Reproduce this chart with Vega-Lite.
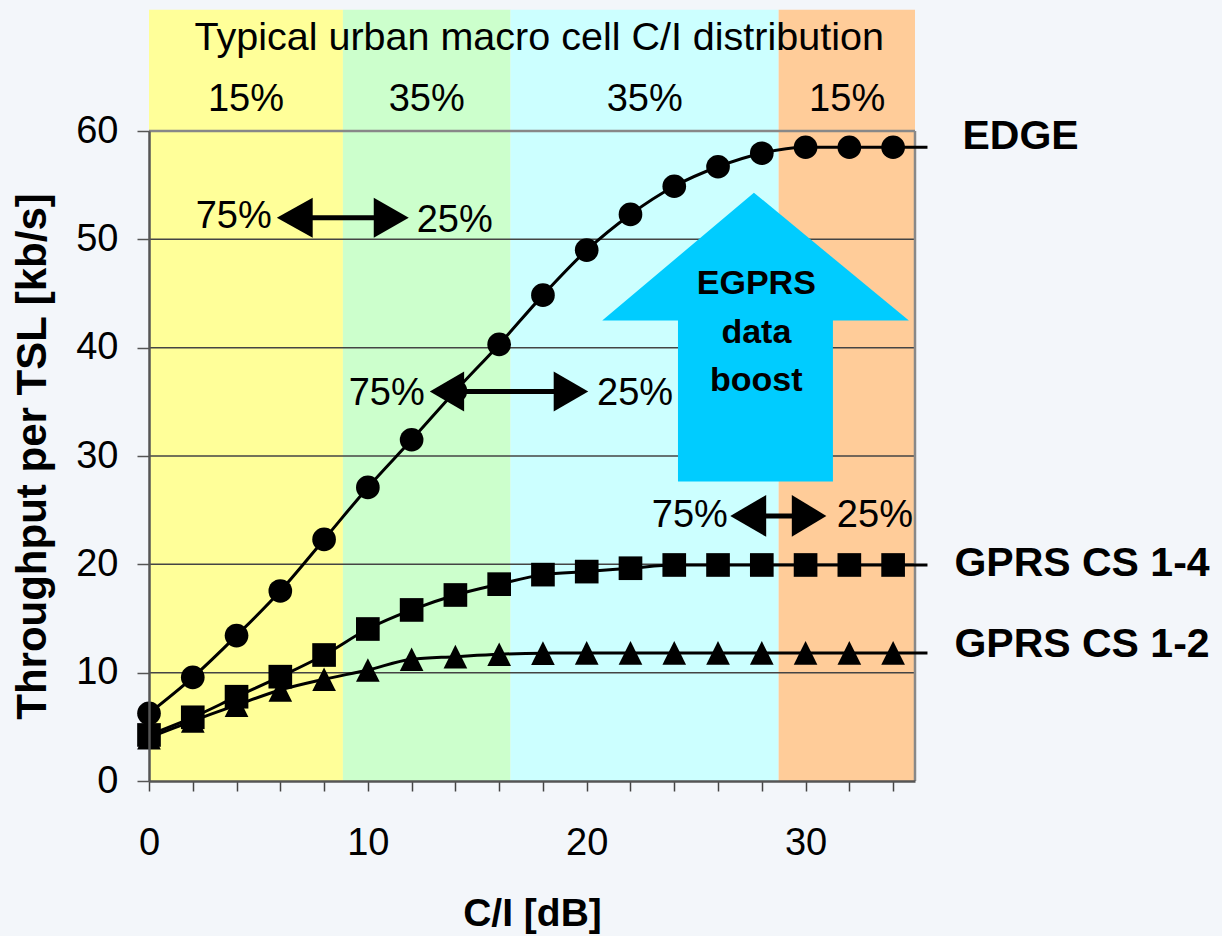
{
  "$schema": "https://vega.github.io/schema/vega-lite/v6.json",
  "width": 766,
  "height": 650,
  "autosize": {"type": "none"},
  "padding": {"left": 149, "top": 131, "right": 307, "bottom": 155},
  "background": "#f3f6fa",
  "config": {"view": {"stroke": null}, "font": "Liberation Sans"},
  "datasets": {
    "bands": [
      {"band": "b1", "x": 0, "x2": 8.86},
      {"band": "b2", "x": 8.86, "x2": 16.52},
      {"band": "b3", "x": 16.52, "x2": 28.77},
      {"band": "b4", "x": 28.77, "x2": 35}
    ],
    "grid": [{"y": 10}, {"y": 20}, {"y": 30}, {"y": 40}, {"y": 50}],
    "series": [
      {"series": "EDGE", "x": 0, "y": 6.25},
      {"series": "EDGE", "x": 2, "y": 9.57},
      {"series": "EDGE", "x": 4, "y": 13.42},
      {"series": "EDGE", "x": 6, "y": 17.54},
      {"series": "EDGE", "x": 8, "y": 22.3},
      {"series": "EDGE", "x": 10, "y": 27.1},
      {"series": "EDGE", "x": 12, "y": 31.5},
      {"series": "EDGE", "x": 14, "y": 36.0},
      {"series": "EDGE", "x": 16, "y": 40.3},
      {"series": "EDGE", "x": 18, "y": 44.85},
      {"series": "EDGE", "x": 20, "y": 49.0},
      {"series": "EDGE", "x": 22, "y": 52.3},
      {"series": "EDGE", "x": 24, "y": 54.9},
      {"series": "EDGE", "x": 26, "y": 56.7},
      {"series": "EDGE", "x": 28, "y": 57.95},
      {"series": "EDGE", "x": 30, "y": 58.5},
      {"series": "EDGE", "x": 32, "y": 58.5},
      {"series": "EDGE", "x": 34, "y": 58.5},
      {"series": "EDGE", "x": 35.57, "y": 58.5},
      {"series": "GPRS CS 1-4", "x": 0, "y": 4.25},
      {"series": "GPRS CS 1-4", "x": 2, "y": 5.88},
      {"series": "GPRS CS 1-4", "x": 4, "y": 7.78},
      {"series": "GPRS CS 1-4", "x": 6, "y": 9.63},
      {"series": "GPRS CS 1-4", "x": 8, "y": 11.63},
      {"series": "GPRS CS 1-4", "x": 10, "y": 14.03},
      {"series": "GPRS CS 1-4", "x": 12, "y": 15.79},
      {"series": "GPRS CS 1-4", "x": 14, "y": 17.17},
      {"series": "GPRS CS 1-4", "x": 16, "y": 18.17},
      {"series": "GPRS CS 1-4", "x": 18, "y": 19.05},
      {"series": "GPRS CS 1-4", "x": 20, "y": 19.33},
      {"series": "GPRS CS 1-4", "x": 22, "y": 19.64},
      {"series": "GPRS CS 1-4", "x": 24, "y": 19.94},
      {"series": "GPRS CS 1-4", "x": 26, "y": 19.94},
      {"series": "GPRS CS 1-4", "x": 28, "y": 19.94},
      {"series": "GPRS CS 1-4", "x": 30, "y": 19.94},
      {"series": "GPRS CS 1-4", "x": 32, "y": 19.94},
      {"series": "GPRS CS 1-4", "x": 34, "y": 19.94},
      {"series": "GPRS CS 1-4", "x": 35.57, "y": 19.94},
      {"series": "GPRS CS 1-2", "x": 0, "y": 4.0},
      {"series": "GPRS CS 1-2", "x": 2, "y": 5.55},
      {"series": "GPRS CS 1-2", "x": 4, "y": 7.0},
      {"series": "GPRS CS 1-2", "x": 6, "y": 8.4},
      {"series": "GPRS CS 1-2", "x": 8, "y": 9.39},
      {"series": "GPRS CS 1-2", "x": 10, "y": 10.25},
      {"series": "GPRS CS 1-2", "x": 12, "y": 11.24},
      {"series": "GPRS CS 1-2", "x": 14, "y": 11.48},
      {"series": "GPRS CS 1-2", "x": 16, "y": 11.7},
      {"series": "GPRS CS 1-2", "x": 18, "y": 11.8},
      {"series": "GPRS CS 1-2", "x": 20, "y": 11.82},
      {"series": "GPRS CS 1-2", "x": 22, "y": 11.82},
      {"series": "GPRS CS 1-2", "x": 24, "y": 11.82},
      {"series": "GPRS CS 1-2", "x": 26, "y": 11.82},
      {"series": "GPRS CS 1-2", "x": 28, "y": 11.82},
      {"series": "GPRS CS 1-2", "x": 30, "y": 11.82},
      {"series": "GPRS CS 1-2", "x": 32, "y": 11.82},
      {"series": "GPRS CS 1-2", "x": 34, "y": 11.82},
      {"series": "GPRS CS 1-2", "x": 35.57, "y": 11.82}
    ],
    "heads": [
      {"id": "a1L", "x": 5.84, "y": 52.0, "y2": 52.0},
      {"id": "a1L", "x": 7.48, "y": 53.85, "y2": 50.15},
      {"id": "a1R", "x": 10.27, "y": 53.85, "y2": 50.15},
      {"id": "a1R", "x": 11.87, "y": 52.0, "y2": 52.0},
      {"id": "a2L", "x": 12.83, "y": 35.95, "y2": 35.95},
      {"id": "a2L", "x": 14.4, "y": 37.8, "y2": 34.1},
      {"id": "a2R", "x": 18.49, "y": 37.8, "y2": 34.1},
      {"id": "a2R", "x": 20.07, "y": 35.95, "y2": 35.95},
      {"id": "a3L", "x": 26.56, "y": 24.47, "y2": 24.47},
      {"id": "a3L", "x": 28.2, "y": 26.4, "y2": 22.54},
      {"id": "a3R", "x": 29.37, "y": 26.4, "y2": 22.54},
      {"id": "a3R", "x": 30.95, "y": 24.47, "y2": 24.47}
    ],
    "shafts": [
      {"x": 7.0, "x2": 10.6, "y": 52.0},
      {"x": 14.0, "x2": 18.9, "y": 35.95},
      {"x": 27.8, "x2": 29.7, "y": 24.47}
    ],
    "bigshaft": [{"x": 24.17, "x2": 31.25, "y": 27.64, "y2": 42.6}],
    "bighead": [
      {"x": 20.71, "y": 42.5, "y2": 42.5},
      {"x": 27.64, "y": 54.31, "y2": 42.5},
      {"x": 34.72, "y": 42.5, "y2": 42.5}
    ],
    "pct": [
      {"text": "15%", "x": 4.43, "y": 62.9},
      {"text": "35%", "x": 12.69, "y": 62.9},
      {"text": "35%", "x": 22.65, "y": 62.9},
      {"text": "15%", "x": 31.9, "y": 62.9}
    ],
    "title": [{"text": "Typical urban macro cell C/I distribution", "x": 17.83, "y": 68.6}],
    "left75": [
      {"text": "75%", "x": 5.61, "y": 52.08},
      {"text": "75%", "x": 12.6, "y": 35.69},
      {"text": "75%", "x": 26.45, "y": 24.47}
    ],
    "right25": [
      {"text": "25%", "x": 12.23, "y": 51.7},
      {"text": "25%", "x": 20.47, "y": 35.69},
      {"text": "25%", "x": 31.43, "y": 24.47}
    ],
    "boost": [
      {"text": "EGPRS", "x": 27.75, "y": 45.9},
      {"text": "data", "x": 27.75, "y": 41.4},
      {"text": "boost", "x": 27.75, "y": 36.9}
    ],
    "labels": [
      {"text": "EDGE", "x": 37.17, "y": 59.46},
      {"text": "GPRS CS 1-4", "x": 36.8, "y": 20.04},
      {"text": "GPRS CS 1-2", "x": 36.8, "y": 12.53}
    ]
  },
  "layer": [
    {
      "data": {"name": "bands"},
      "mark": {"type": "rect"},
      "encoding": {
        "x": {
          "field": "x", "type": "quantitative",
          "scale": {"domain": [0, 35], "nice": false, "zero": false},
          "axis": {
            "values": [0, 2, 4, 6, 8, 10, 12, 14, 16, 18, 20, 22, 24, 26, 28, 30, 32, 34],
            "labelExpr": "datum.value % 10 === 0 ? datum.label : ''",
            "title": "C/I [dB]",
            "titleFont": "Liberation Sans", "titleFontSize": 39, "titleFontWeight": "bold", "titleColor": "black", "titlePadding": 32,
            "labelFont": "Liberation Sans", "labelFontSize": 38, "labelColor": "black", "labelPadding": 33, "labelFlush": false,
            "tickSize": 10, "tickColor": "#444444", "tickWidth": 1.5,
            "domainColor": "#555555", "domainWidth": 2.5, "grid": false, "zindex": 1, "labelOverlap": false
          }
        },
        "x2": {"field": "x2"},
        "y": {
          "datum": 0, "type": "quantitative",
          "scale": {"domain": [0, 60], "nice": false, "zero": false},
          "axis": {
            "values": [0, 10, 20, 30, 40, 50, 60],
            "title": "Throughput per TSL [kb/s]",
            "titleFont": "Liberation Sans", "titleFontSize": 42, "titleFontWeight": "bold", "titleColor": "black", "titlePadding": 21,
            "labelFont": "Liberation Sans", "labelFontSize": 38, "labelColor": "black", "labelPadding": 19, "labelFlush": false,
            "tickSize": 12, "tickColor": "#555555", "tickWidth": 1.5,
            "domainColor": "#555555", "domainWidth": 2.5, "grid": false, "zindex": 1
          }
        },
        "y2": {"datum": 71.2},
        "color": {"field": "band", "type": "nominal", "scale": {"domain": ["b1", "b2", "b3", "b4"], "range": ["#FFFF99", "#CCFFCC", "#CCFFFF", "#FFCC99"]}, "legend": null}
      }
    },
    {
      "data": {"name": "grid"},
      "mark": {"type": "rule", "color": "#444444", "strokeWidth": 1.5},
      "encoding": {
        "y": {"field": "y", "type": "quantitative"},
        "x": {"datum": 0, "type": "quantitative"},
        "x2": {"datum": 35}
      }
    },
    {
      "data": {"values": [{}]},
      "mark": {"type": "rule", "color": "#888888", "strokeWidth": 2.5},
      "encoding": {
        "y": {"datum": 60, "type": "quantitative"},
        "x": {"datum": 0, "type": "quantitative"},
        "x2": {"datum": 35}
      }
    },
    {
      "data": {"values": [{}]},
      "mark": {"type": "rule", "color": "#888888", "strokeWidth": 2.5},
      "encoding": {
        "x": {"datum": 35, "type": "quantitative"},
        "y": {"datum": 0, "type": "quantitative"},
        "y2": {"datum": 60}
      }
    },
    {
      "data": {"name": "bigshaft"},
      "mark": {"type": "rect", "color": "#00CCFF"},
      "encoding": {
        "x": {"field": "x", "type": "quantitative"},
        "x2": {"field": "x2"},
        "y": {"field": "y", "type": "quantitative"},
        "y2": {"field": "y2"}
      }
    },
    {
      "data": {"name": "bighead"},
      "mark": {"type": "area", "color": "#00CCFF", "interpolate": "linear"},
      "encoding": {
        "x": {"field": "x", "type": "quantitative"},
        "y": {"field": "y", "type": "quantitative", "stack": null},
        "y2": {"field": "y2"}
      }
    },
    {
      "data": {"name": "series"},
      "mark": {"type": "line", "color": "black", "strokeWidth": 3, "interpolate": "monotone"},
      "encoding": {
        "x": {"field": "x", "type": "quantitative"},
        "y": {"field": "y", "type": "quantitative"},
        "detail": {"field": "series"}
      }
    },
    {
      "data": {"name": "series"},
      "transform": [{"filter": "datum.x <= 34"}],
      "mark": {"type": "point", "filled": true, "color": "black", "opacity": 1, "size": 560},
      "encoding": {
        "x": {"field": "x", "type": "quantitative"},
        "y": {"field": "y", "type": "quantitative"},
        "shape": {"field": "series", "type": "nominal", "scale": {"domain": ["EDGE", "GPRS CS 1-4", "GPRS CS 1-2"], "range": ["circle", "square", "M0,-1L1,1L-1,1Z"]}, "legend": null}
      }
    },
    {
      "data": {"name": "shafts"},
      "mark": {"type": "rule", "color": "black", "strokeWidth": 5},
      "encoding": {
        "x": {"field": "x", "type": "quantitative"},
        "x2": {"field": "x2"},
        "y": {"field": "y", "type": "quantitative"}
      }
    },
    {
      "data": {"name": "heads"},
      "mark": {"type": "area", "color": "black", "interpolate": "linear"},
      "encoding": {
        "x": {"field": "x", "type": "quantitative"},
        "y": {"field": "y", "type": "quantitative", "stack": null},
        "y2": {"field": "y2"},
        "detail": {"field": "id"}
      }
    },
    {
      "data": {"name": "pct"},
      "mark": {"type": "text", "font": "Liberation Sans", "fontSize": 38, "align": "center", "baseline": "middle", "color": "black"},
      "encoding": {
        "x": {"field": "x", "type": "quantitative"},
        "y": {"field": "y", "type": "quantitative"},
        "text": {"field": "text"}
      }
    },
    {
      "data": {"name": "title"},
      "mark": {"type": "text", "font": "Liberation Sans", "fontSize": 39.5, "align": "center", "baseline": "middle", "color": "black"},
      "encoding": {
        "x": {"field": "x", "type": "quantitative"},
        "y": {"field": "y", "type": "quantitative"},
        "text": {"field": "text"}
      }
    },
    {
      "data": {"name": "left75"},
      "mark": {"type": "text", "font": "Liberation Sans", "fontSize": 38, "align": "right", "baseline": "middle", "color": "black"},
      "encoding": {
        "x": {"field": "x", "type": "quantitative"},
        "y": {"field": "y", "type": "quantitative"},
        "text": {"field": "text"}
      }
    },
    {
      "data": {"name": "right25"},
      "mark": {"type": "text", "font": "Liberation Sans", "fontSize": 38, "align": "left", "baseline": "middle", "color": "black"},
      "encoding": {
        "x": {"field": "x", "type": "quantitative"},
        "y": {"field": "y", "type": "quantitative"},
        "text": {"field": "text"}
      }
    },
    {
      "data": {"name": "boost"},
      "mark": {"type": "text", "font": "Liberation Sans", "fontSize": 34, "fontWeight": "bold", "align": "center", "baseline": "middle", "color": "black"},
      "encoding": {
        "x": {"field": "x", "type": "quantitative"},
        "y": {"field": "y", "type": "quantitative"},
        "text": {"field": "text"}
      }
    },
    {
      "data": {"name": "labels"},
      "mark": {"type": "text", "font": "Liberation Sans", "fontSize": 41, "fontWeight": "bold", "align": "left", "baseline": "middle", "color": "black"},
      "encoding": {
        "x": {"field": "x", "type": "quantitative"},
        "y": {"field": "y", "type": "quantitative"},
        "text": {"field": "text"}
      }
    }
  ]
}
